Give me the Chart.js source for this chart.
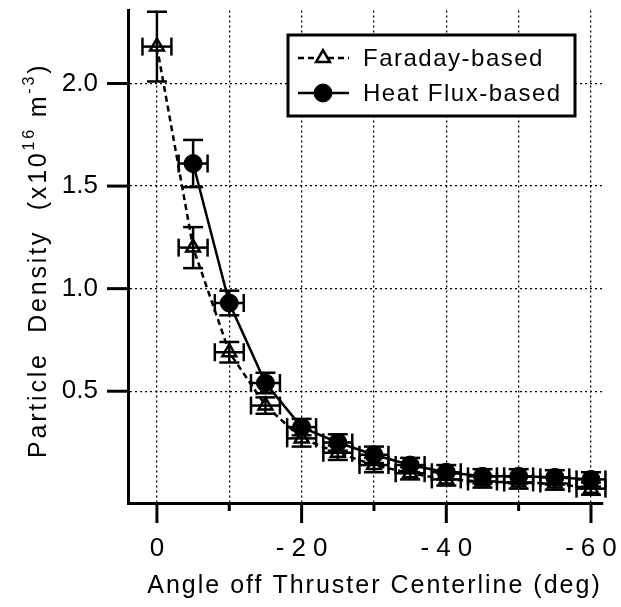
<!DOCTYPE html>
<html>
<head>
<meta charset="utf-8">
<script src="https://cdn.jsdelivr.net/npm/chart.js@4.4.1/dist/chart.umd.min.js"></script>
<style>
  html, body { margin: 0; padding: 0; background: #ffffff; }
  #wrap { width: 621px; height: 607px; position: relative; }
</style>
</head>
<body>
<div id="wrap"><canvas id="c" width="621" height="607"></canvas></div>
<script>
// ---------------- data ----------------
const angleDeg        = [0, -5, -10, -15, -20, -25, -30, -35, -40, -45, -50, -55, -60];
const angleError      = [2, 2, 2, 2, 2, 2, 2, 2, 2, 2, 2, 2, 2];
const faradayDensity  = [2.18, 1.20, 0.69, 0.43, 0.27, 0.20, 0.14, 0.10, 0.07, 0.06, 0.055, 0.05, 0.025];
const faradayError    = [0.17, 0.10, 0.05, 0.04, 0.04, 0.035, 0.035, 0.03, 0.03, 0.03, 0.03, 0.03, 0.03];
const heatFluxDensity = [null, 1.61, 0.93, 0.54, 0.325, 0.25, 0.19, 0.14, 0.105, 0.085, 0.085, 0.08, 0.07];
const heatFluxError   = [null, 0.115, 0.06, 0.05, 0.04, 0.04, 0.04, 0.035, 0.035, 0.035, 0.035, 0.035, 0.035];
const seriesNames     = ['Faraday-based', 'Heat Flux-based'];
const xTickValues     = [0, -10, -20, -30, -40, -50, -60];
const xLabeledTicks   = [0, -20, -40, -60];
const yTickValues     = [0.5, 1.0, 1.5, 2.0];
const xAxisTitle      = 'Angle off Thruster Centerline (deg)';
const yAxisTitleParts = [
  { text: 'Particle  Density  (x10', sup: false },
  { text: '16', sup: true },
  { text: ' m', sup: false },
  { text: '-3', sup: true },
  { text: ')', sup: false }
];

// ---------------- style ----------------
const FONT = "'Liberation Sans', Arial, Helvetica, sans-serif";
const INK = '#000000';

function toPoints(values, errors) {
  const pts = [];
  angleDeg.forEach((a, i) => {
    if (values[i] !== null) pts.push({ x: a, y: values[i], yErr: errors[i], xErr: angleError[i] });
  });
  return pts;
}

// error bars drawn through the chart scales
const errorBars = {
  id: 'errorBars',
  afterDatasetDraw(chart, args) {
    const ds = chart.data.datasets[args.index];
    const ctx = chart.ctx;
    const xs = chart.scales.x, ys = chart.scales.y;
    ctx.save();
    ctx.strokeStyle = INK;
    ctx.lineWidth = 2.5;
    ctx.setLineDash([]);
    const seg = (x1, y1, x2, y2) => { ctx.beginPath(); ctx.moveTo(x1, y1); ctx.lineTo(x2, y2); ctx.stroke(); };
    ds.data.forEach(d => {
      const px = xs.getPixelForValue(d.x), py = ys.getPixelForValue(d.y);
      const yt = ys.getPixelForValue(d.y + d.yErr), yb = ys.getPixelForValue(d.y - d.yErr);
      const xl = xs.getPixelForValue(d.x + d.xErr), xr = xs.getPixelForValue(d.x - d.xErr);
      seg(px, yt, px, yb);
      seg(px - 10, yt, px + 10, yt);
      seg(px - 10, yb, px + 10, yb);
      seg(xl, py, xr, py);
      seg(xl, py - 9, xl, py + 9);
      seg(xr, py - 9, xr, py + 9);
    });
    ctx.restore();
  }
};

// letter-spaced x tick labels
const spacedXLabels = {
  id: 'spacedXLabels',
  beforeDraw(chart) {
    const sx = chart.scales.x;
    if (sx && !sx._spacedPatched) {
      const orig = sx.drawLabels.bind(sx);
      sx.drawLabels = function (area) {
        const ctx = this.ctx;
        ctx.save();
        ctx.letterSpacing = '7px';
        orig(area);
        ctx.restore();
      };
      sx._spacedPatched = true;
    }
  }
};

// tick marks, axis titles and the boxed legend
const decorations = {
  id: 'decorations',
  afterDraw(chart) {
    const ctx = chart.ctx;
    const xs = chart.scales.x, ys = chart.scales.y;
    const ca = chart.chartArea;
    ctx.save();
    ctx.strokeStyle = INK;
    ctx.fillStyle = INK;
    ctx.lineWidth = 3;
    ctx.setLineDash([]);
    // y tick marks
    yTickValues.forEach(v => {
      const y = ys.getPixelForValue(v);
      ctx.beginPath(); ctx.moveTo(ca.left - 21, y); ctx.lineTo(ca.left, y); ctx.stroke();
    });
    // x tick marks
    xTickValues.forEach(v => {
      const x = xs.getPixelForValue(v);
      const len = xLabeledTicks.includes(v) ? 20 : 8;
      ctx.beginPath(); ctx.moveTo(x, ca.bottom); ctx.lineTo(x, ca.bottom + len); ctx.stroke();
    });

    // x axis title
    ctx.font = `25px ${FONT}`;
    ctx.letterSpacing = '2px';
    ctx.textAlign = 'center';
    ctx.textBaseline = 'alphabetic';
    ctx.fillText(xAxisTitle, (ca.left + ca.right) / 2 + 9, 593);

    // y axis title (rotated, with superscripts)
    ctx.save();
    ctx.translate(46, 458);
    ctx.rotate(-Math.PI / 2);
    ctx.textAlign = 'left';
    let cx = 0;
    yAxisTitleParts.forEach(p => {
      ctx.font = p.sup ? `16px ${FONT}` : `25px ${FONT}`;
      ctx.letterSpacing = '2.8px';
      ctx.fillText(p.text, cx, p.sup ? -12 : 0);
      cx += ctx.measureText(p.text).width;
    });
    ctx.restore();

    // legend box
    const bx = 288, by = 35, bw = 287, bh = 81;
    ctx.fillStyle = '#ffffff';
    ctx.fillRect(bx, by, bw, bh);
    ctx.lineWidth = 3;
    ctx.strokeStyle = INK;
    ctx.strokeRect(bx, by, bw, bh);
    const rows = [58, 93];
    chart.data.datasets.forEach((ds, i) => {
      const y = rows[i];
      ctx.save();
      ctx.strokeStyle = INK;
      ctx.lineWidth = ds.borderWidth;
      ctx.setLineDash(ds.borderDash || []);
      ctx.beginPath(); ctx.moveTo(298, y); ctx.lineTo(349, y); ctx.stroke();
      ctx.setLineDash([]);
      ctx.fillStyle = ds.pointBackgroundColor;
      ctx.strokeStyle = ds.pointBorderColor;
      ctx.lineWidth = ds.pointBorderWidth;
      Chart.helpers.drawPoint(ctx, {
        pointStyle: ds.pointStyle, radius: ds.pointRadius, rotation: 0, borderWidth: ds.pointBorderWidth
      }, 323, y);
      ctx.restore();
      ctx.fillStyle = INK;
      ctx.font = `24px ${FONT}`;
      ctx.letterSpacing = '1.5px';
      ctx.textAlign = 'left';
      ctx.textBaseline = 'middle';
      ctx.fillText(ds.label, 363, y + 1);
    });
    ctx.restore();
  }
};

function fixBox(scale, prop, size) {
  scale[prop] = size;
  scale.paddingTop = 0;
  scale.paddingBottom = 0;
  scale.paddingLeft = 0;
  scale.paddingRight = 0;
}

new Chart(document.getElementById('c'), {
  type: 'line',
  data: {
    datasets: [
      {
        label: seriesNames[0],
        data: toPoints(faradayDensity, faradayError),
        borderColor: INK,
        borderWidth: 2.5,
        borderDash: [6, 4],
        pointStyle: 'triangle',
        pointRadius: 8,
        pointBackgroundColor: '#ffffff',
        pointBorderColor: INK,
        pointBorderWidth: 2.5,
        tension: 0,
        order: 2
      },
      {
        label: seriesNames[1],
        data: toPoints(heatFluxDensity, heatFluxError),
        borderColor: INK,
        borderWidth: 2.5,
        pointStyle: 'circle',
        pointRadius: 9,
        pointBackgroundColor: INK,
        pointBorderColor: INK,
        pointBorderWidth: 1,
        tension: 0,
        order: 1
      }
    ]
  },
  options: {
    responsive: false,
    animation: false,
    events: [],
    layout: { padding: { top: 10, right: 18, left: 0, bottom: 0 } },
    plugins: {
      legend: { display: false },
      tooltip: { enabled: false },
      title: { display: false }
    },
    scales: {
      x: {
        type: 'linear',
        reverse: true,
        min: -61.66,
        max: 4.0,
        afterBuildTicks: (scale) => { scale.ticks = xTickValues.map(v => ({ value: v })); },
        afterFit: (scale) => fixBox(scale, 'height', 104),
        grid: { color: INK, lineWidth: 1.3, drawTicks: false },
        border: { display: true, color: INK, width: 3, dash: [2, 3] },
        ticks: {
          color: INK,
          font: { family: FONT, size: 26 },
          padding: 30,
          labelOffset: 3.5,
          maxRotation: 0,
          autoSkip: false,
          callback: (v) => xLabeledTicks.includes(v) ? String(v) : ''
        },
        title: { display: false }
      },
      y: {
        type: 'linear',
        min: -0.045,
        max: 2.356,
        afterBuildTicks: (scale) => { scale.ticks = yTickValues.map(v => ({ value: v })); },
        afterFit: (scale) => fixBox(scale, 'width', 128),
        grid: { color: INK, lineWidth: 1.3, drawTicks: false },
        border: { display: true, color: INK, width: 3, dash: [2, 3] },
        ticks: {
          color: INK,
          font: { family: FONT, size: 26 },
          padding: 30,
          autoSkip: false,
          callback: (v) => v.toFixed(1)
        },
        title: { display: false }
      }
    }
  },
  plugins: [errorBars, spacedXLabels, decorations]
});
</script>
</body>
</html>
